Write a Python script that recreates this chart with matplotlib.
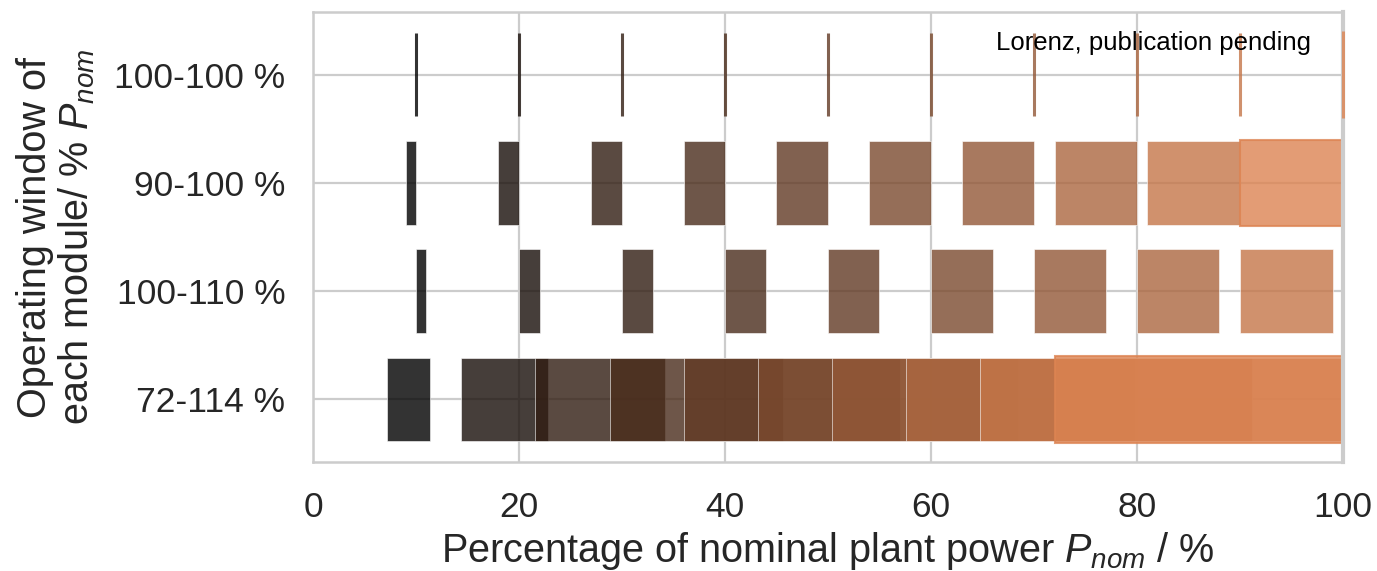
import matplotlib
matplotlib.use("Agg")
import matplotlib.pyplot as plt
from matplotlib.colors import LinearSegmentedColormap

# ---- data ----
row_labels = ["100-100 %", "90-100 %", "100-110 %", "72-114 %"]

# operating range [start, end] of the plant for 1..10 modules, per window
starts_100_100 = [10, 20, 30, 40, 50, 60, 70, 80, 90, 100]
ends_100_100 = [10, 20, 30, 40, 50, 60, 70, 80, 90, 100]

starts_90_100 = [9, 18, 27, 36, 45, 54, 63, 72, 81, 90]
ends_90_100 = [10, 20, 30, 40, 50, 60, 70, 80, 90, 100]

starts_100_110 = [10, 20, 30, 40, 50, 60, 70, 80, 90, 100]
ends_100_110 = [11, 22, 33, 44, 55, 66, 77, 88, 99, 110]

starts_72_114 = [7.2, 14.4, 21.6, 28.8, 36, 43.2, 50.4, 57.6, 64.8, 72]
ends_72_114 = [11.4, 22.8, 34.2, 45.6, 57, 68.4, 79.8, 91.2, 102.6, 114]

row_starts = [starts_100_100, starts_90_100, starts_100_110, starts_72_114]
row_ends = [ends_100_100, ends_90_100, ends_100_110, ends_72_114]

x_ticks = [0, 20, 40, 60, 80, 100]

# ---- style ----
plt.rcParams["font.family"] = ["Liberation Sans", "DejaVu Sans"]
plt.rcParams["mathtext.fontset"] = "custom"
plt.rcParams["mathtext.rm"] = "Liberation Sans"
plt.rcParams["mathtext.it"] = "Liberation Sans:italic"
plt.rcParams["mathtext.bf"] = "Liberation Sans:bold"

grid_c = "#cccccc"
text_c = "#262626"

fig = plt.figure(figsize=(13.77, 5.71), dpi=100)
ax = fig.add_axes([313 / 1377, 1 - 462 / 571, (1343 - 313) / 1377, 450 / 571])

cmap = LinearSegmentedColormap.from_list("dark_orange", ["#000000", "#dd8452"])
n_mod = len(starts_100_100)
colors = [cmap(i / (n_mod - 1)) for i in range(n_mod)]

for r, (st, en) in enumerate(zip(row_starts, row_ends)):
    for i, (a, b) in enumerate(zip(st, en)):
        last = (i == n_mod - 1)
        clip = True
        z = 2
        if a == b:
            ec, lw = colors[i], 2.2
            clip, z = False, 3
        elif last:
            ec, lw = colors[i], 1.5
        else:
            ec, lw = "white", 0.5
        h = 0.80 if last else 0.77
        ax.barh(r, b - a, left=a, height=h, color=colors[i], alpha=0.8,
                edgecolor=ec, linewidth=lw, zorder=z, clip_on=clip)

ax.set_xlim(0, 100)
ax.set_ylim(3.58, -0.58)
ax.set_yticks(range(len(row_labels)))
ax.set_yticklabels(row_labels)
ax.set_xticks(x_ticks)
ax.set_xticklabels([str(t) for t in x_ticks])

ax.grid(True, color=grid_c, linewidth=1.6, zorder=0)
ax.set_axisbelow(True)
ax.tick_params(axis="both", length=0, labelsize=25.5, labelcolor=text_c)
ax.tick_params(axis="x", pad=21)
ax.tick_params(axis="y", pad=20)

for name, sp in ax.spines.items():
    sp.set_color(grid_c)
    sp.set_linewidth(1.8)
ax.spines["right"].set_linewidth(3.0)

ax.set_xlabel("Percentage of nominal plant power $P_{nom}$ / %",
              fontsize=28.5, color=text_c, labelpad=4)
ax.set_ylabel("Operating window of\neach module/ % $P_{nom}$",
              fontsize=28.5, color=text_c, labelpad=12, linespacing=1.1)

ax.text(0.969, 0.931, "Lorenz, publication pending", transform=ax.transAxes,
        ha="right", va="center", fontsize=18.5, color="black", zorder=5)

fig.savefig("out.png", dpi=100, facecolor="white")
